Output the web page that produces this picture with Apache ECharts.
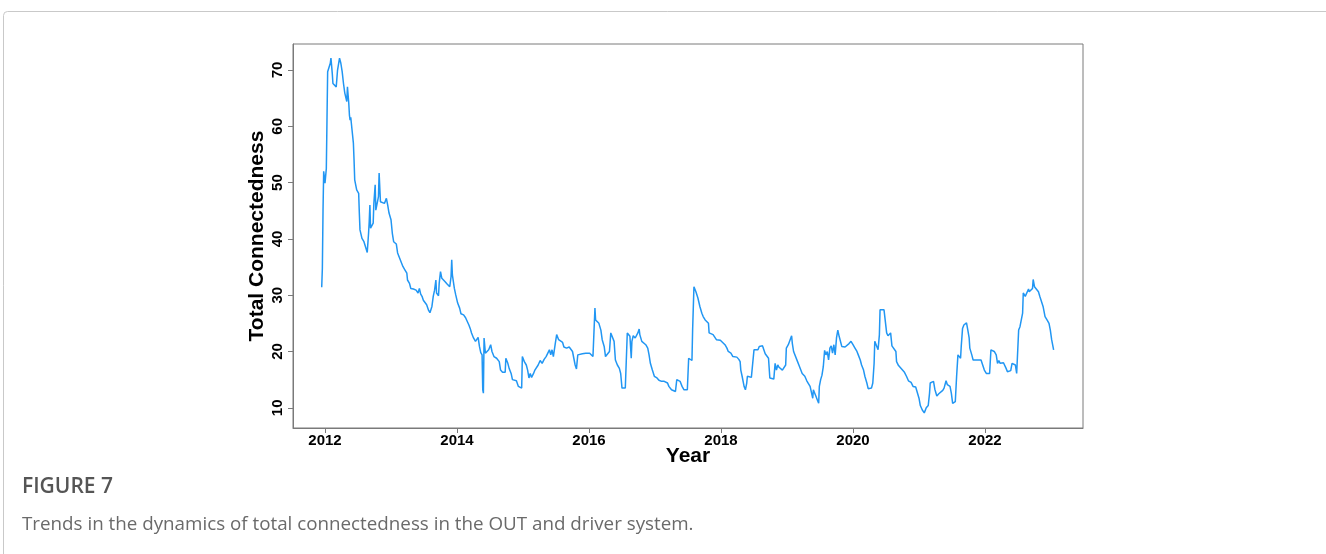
<!DOCTYPE html>
<html>
<head>
<meta charset="utf-8">
<script src="https://cdn.jsdelivr.net/npm/echarts@6/dist/echarts.min.js"></script>
<style>
  html, body { margin: 0; padding: 0; background: #ffffff; }
  #chart { width: 1326px; height: 554px; }
</style>
</head>
<body>
<div id="chart"></div>
<script>
// Total connectedness index, rolling-window estimates (fractional years)
const yearsA = [2011.95,2011.96,2011.97,2011.98,2012.00,2012.02,2012.03,2012.04,2012.06,2012.08,2012.09,2012.11,2012.12,2012.15,2012.17,2012.19,2012.22,2012.24,2012.26,2012.28,2012.30,2012.33,2012.34,2012.36,2012.37,2012.38,2012.39,2012.41,2012.43,2012.44,2012.45,2012.48,2012.51,2012.52,2012.53,2012.56,2012.59,2012.62,2012.64,2012.66,2012.67,2012.68,2012.69,2012.71,2012.73,2012.74,2012.76,2012.77,2012.80,2012.81,2012.82,2012.84,2012.87,2012.90,2012.91,2012.93,2012.95,2012.97,2013.00,2013.02,2013.04,2013.08,2013.10,2013.14,2013.18,2013.21,2013.24,2013.25,2013.28,2013.30,2013.34,2013.38,2013.41,2013.43,2013.45,2013.47,2013.49,2013.52,2013.54,2013.57,2013.59,2013.62,2013.64,2013.66,2013.68,2013.69,2013.72,2013.73,2013.75,2013.77,2013.79,2013.82,2013.85,2013.89,2013.91,2013.92,2013.93,2013.96,2013.98,2014.01,2014.04,2014.06,2014.10,2014.13,2014.16,2014.18,2014.20,2014.22,2014.25,2014.28,2014.30,2014.32,2014.34,2014.36,2014.38,2014.39,2014.40,2014.41,2014.43,2014.45,2014.48,2014.51];
const valuesA = [31.4,34.8,45.1,52.0,49.9,52.5,61.1,69.7,69.7,71.2,72.1,69.4,67.6,67.5,67.0,70.0,72.1,71.2,69.7,67.6,65.9,64.4,67.0,64.1,62.0,61.1,61.6,59.3,57.0,54.0,50.5,48.7,48.1,44.6,41.6,40.1,39.5,39.2,37.6,41.0,43.1,46.0,41.9,42.2,42.8,46.3,49.6,45.1,44.9,47.5,51.7,46.6,46.3,46.3,46.6,47.2,46.0,44.6,43.4,41.0,39.5,39.1,37.5,36.3,35.1,34.5,33.9,32.7,32.1,31.2,31.1,30.9,30.4,31.2,30.2,29.8,29.1,29.3,28.3,27.3,26.9,28.0,29.8,30.9,32.7,30.4,29.9,32.1,34.2,33.0,32.8,32.4,32.0,31.5,33.3,36.3,33.6,31.2,30.1,28.6,27.7,26.7,26.5,26.0,25.7,24.7,24.1,23.3,22.4,21.8,21.5,22.5,20.9,19.8,19.4,13.2,12.6,22.4,19.7,19.6,20.3,21.2];

const yearsB = [2014.53,2014.56,2014.60,2014.64,2014.66,2014.69,2014.73,2014.74,2014.77,2014.79,2014.82,2014.84,2014.87,2014.90,2014.93,2014.95,2014.98,2014.99,2015.02,2015.05,2015.07,2015.09,2015.11,2015.13,2015.16,2015.18,2015.21,2015.23,2015.26,2015.29,2015.32,2015.35,2015.38,2015.40,2015.42,2015.44,2015.46,2015.49,2015.51,2015.54,2015.57,2015.60,2015.62,2015.66,2015.70,2015.72,2015.75,2015.77,2015.79,2015.81,2015.83,2015.86,2015.90,2015.93,2015.95,2015.98,2016.01,2016.03,2016.06,2016.08,2016.09,2016.10,2016.13,2016.15,2016.18,2016.20,2016.23,2016.25,2016.28,2016.31,2016.33,2016.36,2016.38,2016.40,2016.43,2016.46,2016.48,2016.50,2016.55,2016.57,2016.58,2016.61,2016.62,2016.64,2016.65,2016.67,2016.70,2016.72,2016.74,2016.76,2016.77,2016.80,2016.83,2016.86,2016.89,2016.91,2016.93,2016.96,2016.99,2017.03,2017.06,2017.10,2017.14,2017.16,2017.19,2017.21,2017.23,2017.25,2017.28,2017.31,2017.33,2017.36,2017.38,2017.41,2017.44,2017.47,2017.49,2017.51,2017.53,2017.56];
const valuesB = [20.0,19.1,18.8,18.2,16.7,16.3,16.3,18.8,17.9,17.0,16.1,15.0,14.7,14.8,13.8,13.5,13.5,19.1,18.2,17.6,16.7,15.3,16.1,15.4,16.1,16.7,17.0,17.6,18.4,17.9,18.6,19.1,19.4,20.3,19.4,20.3,19.1,21.5,23.0,22.1,21.8,21.6,20.8,20.6,20.8,20.6,20.0,18.8,17.6,16.9,19.4,19.4,19.6,19.8,19.7,20.0,19.7,19.4,19.1,19.1,27.7,25.6,25.5,25.0,23.8,22.1,20.9,19.1,19.1,20.0,23.3,23.2,21.8,18.5,17.6,17.0,16.1,13.5,13.5,13.5,23.3,23.2,22.7,18.8,21.8,22.8,22.4,22.7,23.3,24.0,23.0,21.8,21.5,21.2,20.6,19.4,17.9,16.7,15.6,15.3,14.9,14.7,14.7,14.4,14.4,13.8,13.5,13.2,12.9,12.9,15.0,15.1,14.7,13.8,13.2,12.9,13.2,18.8,19.1,18.4];

const yearsC = [2017.57,2017.59,2017.62,2017.65,2017.68,2017.71,2017.73,2017.76,2017.78,2017.81,2017.82,2017.84,2017.88,2017.91,2017.93,2017.96,2017.99,2018.02,2018.06,2018.09,2018.11,2018.15,2018.18,2018.21,2018.24,2018.27,2018.29,2018.30,2018.32,2018.35,2018.37,2018.39,2018.40,2018.43,2018.46,2018.49,2018.50,2018.53,2018.56,2018.58,2018.60,2018.63,2018.64,2018.67,2018.70,2018.72,2018.74,2018.77,2018.80,2018.82,2018.84,2018.86,2018.88,2018.91,2018.93,2018.96,2018.98,2018.99,2019.02,2019.05,2019.07,2019.08,2019.10,2019.13,2019.16,2019.18,2019.21,2019.23,2019.25,2019.27,2019.30,2019.32,2019.35,2019.37,2019.39,2019.40,2019.42,2019.44,2019.46,2019.48,2019.49,2019.51,2019.53,2019.55,2019.57,2019.59,2019.61,2019.63,2019.65,2019.67,2019.69,2019.71,2019.73,2019.75,2019.77,2019.79,2019.81,2019.83,2019.85,2019.88,2019.91,2019.94,2019.97,2020.00,2020.03,2020.06,2020.08,2020.11,2020.13,2020.16,2020.18,2020.21,2020.23,2020.26,2020.28,2020.30,2020.32,2020.33,2020.36,2020.38,2020.40,2020.41,2020.44,2020.47,2020.49,2020.51,2020.53,2020.55,2020.57];
const valuesC = [23.8,31.5,30.6,29.5,28.0,26.8,26.2,25.6,25.3,25.0,23.3,23.0,23.0,22.8,22.1,21.8,22.0,21.8,21.2,20.6,20.0,19.7,19.1,18.8,19.0,18.6,18.2,16.7,15.6,13.8,13.2,14.4,15.6,15.6,15.4,15.6,20.3,20.2,20.3,20.9,20.6,21.0,20.6,19.6,19.4,18.8,15.3,15.1,15.1,17.9,16.7,17.6,17.2,17.0,16.7,17.0,17.6,20.6,21.2,21.5,22.8,21.5,20.0,19.7,18.2,17.6,17.3,16.1,15.8,15.6,14.8,14.4,13.8,13.8,11.7,13.2,12.6,12.0,11.4,10.8,13.8,15.0,15.8,17.3,20.2,19.4,20.0,18.5,20.6,21.0,19.7,21.2,19.4,22.4,23.8,22.7,23.0,20.9,20.6,20.8,20.6,21.4,21.8,21.2,20.6,20.0,19.4,18.5,17.6,16.7,15.6,14.4,13.4,13.4,13.5,14.4,17.9,21.8,21.5,20.3,23.0,27.4,27.5,27.4,27.1,23.3,22.8,23.0,23.3];

const yearsD = [2020.59,2020.62,2020.65,2020.66,2020.69,2020.72,2020.75,2020.78,2020.81,2020.84,2020.88,2020.91,2020.95,2020.98,2021.00,2021.02,2021.05,2021.08,2021.11,2021.14,2021.16,2021.17,2021.20,2021.22,2021.24,2021.27,2021.30,2021.33,2021.36,2021.38,2021.41,2021.43,2021.45,2021.47,2021.49,2021.51,2021.53,2021.55,2021.57,2021.59,2021.61,2021.63,2021.64,2021.66,2021.68,2021.70,2021.72,2021.74,2021.76,2021.77,2021.80,2021.82,2021.85,2021.88,2021.91,2021.94,2021.96,2021.99,2022.02,2022.04,2022.07,2022.09,2022.11,2022.14,2022.17,2022.19,2022.21,2022.23,2022.25,2022.28,2022.30,2022.32,2022.34,2022.37,2022.39,2022.41,2022.44,2022.46,2022.48,2022.49,2022.51,2022.53,2022.56,2022.57,2022.58,2022.61,2022.63,2022.66,2022.67,2022.70,2022.72,2022.73,2022.75,2022.78,2022.81,2022.83,2022.86,2022.88,2022.91,2022.94,2022.95,2022.97,2022.99,2023.01,2023.04];
const valuesD = [21.0,20.9,20.0,18.2,17.5,17.3,16.7,16.3,15.6,14.8,14.5,13.8,13.7,13.5,11.7,10.4,9.6,9.1,10.0,10.4,12.6,14.4,14.3,14.7,13.3,12.1,12.5,12.7,13.1,13.5,14.8,14.1,14.4,13.8,12.6,10.8,10.5,11.1,15.6,19.4,19.1,18.8,20.9,24.1,24.7,24.4,25.1,23.8,22.4,20.6,19.4,18.5,18.4,18.5,18.2,18.5,18.2,16.7,16.1,16.0,16.1,20.3,20.2,20.0,19.4,17.9,18.4,17.9,18.2,18.0,18.2,17.0,16.4,16.3,16.6,17.9,17.8,17.6,16.1,16.1,23.8,24.4,24.7,26.8,30.4,29.8,29.8,31.1,30.6,30.8,31.2,32.8,31.5,31.2,30.6,29.8,29.5,28.0,26.2,25.6,25.9,25.0,23.8,22.1,20.3];

// Axis ticks
const yearTicks = [2012, 2014, 2016, 2018, 2020, 2022];
const valueTicks = [10, 20, 30, 40, 50, 60, 70];

const years = [].concat(yearsA, yearsB, yearsC, yearsD);
const values = [].concat(valuesA, valuesB, valuesC, valuesD);
const points = years.map((y, i) => [y, values[i]]);

const chart = echarts.init(document.getElementById('chart'), null, { renderer: 'canvas' });
const axisFont = "'Liberation Sans', Arial, sans-serif";
const captionFont = "'Open Sans', 'Noto Sans', sans-serif";

chart.setOption({
  animation: false,
  backgroundColor: '#ffffff',
  grid: {
    left: 293, top: 44, width: 790, height: 384,
    show: true, borderColor: '#7a7a7a', borderWidth: 1
  },
  xAxis: {
    type: 'value',
    min: 2011.515,
    max: 2023.485,
    splitLine: { show: false },
    axisLine: { show: true, lineStyle: { color: '#7a7a7a', width: 1 } },
    axisTick: { show: true, customValues: yearTicks, length: 5, lineStyle: { color: '#7a7a7a' } },
    axisLabel: {
      customValues: yearTicks,
      formatter: v => String(Math.round(v)),
      color: '#000', fontWeight: 'bold', fontSize: 15, fontFamily: axisFont, margin: 5
    },
    name: 'Year',
    nameLocation: 'middle',
    nameGap: 18,
    nameMoveOverlap: false,
    nameTextStyle: { color: '#000', fontSize: 21, fontWeight: 'bold', fontFamily: axisFont }
  },
  yAxis: {
    type: 'value',
    min: 6.41,
    max: 74.62,
    splitLine: { show: false },
    axisLine: { show: true, lineStyle: { color: '#7a7a7a', width: 1 } },
    axisTick: { show: true, customValues: valueTicks, length: 5, lineStyle: { color: '#7a7a7a' } },
    axisLabel: {
      customValues: valueTicks,
      rotate: 90,
      color: '#000', fontWeight: 'bold', fontSize: 15, fontFamily: axisFont, margin: 8
    },
    name: 'Total Connectedness',
    nameLocation: 'middle',
    nameGap: 25,
    nameMoveOverlap: false,
    nameTextStyle: { color: '#000', fontSize: 21, fontWeight: 'bold', fontFamily: axisFont }
  },
  series: [{
    type: 'line',
    data: points,
    showSymbol: false,
    symbol: 'none',
    lineStyle: { color: '#2196F3', width: 1.5 },
    silent: true
  }],
  graphic: [
    {
      type: 'rect',
      shape: { x: 3.5, y: 11.5, width: 1400, height: 700, r: 4 },
      style: { fill: 'none', stroke: '#c9c9c9', lineWidth: 1 },
      silent: true
    },
    {
      type: 'text',
      left: 22, top: 477,
      style: { text: 'FIGURE 7', fill: '#555555', font: "600 21px " + captionFont }
    },
    {
      type: 'text',
      left: 22, top: 515,
      style: { text: 'Trends in the dynamics of total connectedness in the OUT and driver system.', fill: '#6a6a6a', font: "18.8px " + captionFont }
    }
  ]
});
</script>
</body>
</html>
